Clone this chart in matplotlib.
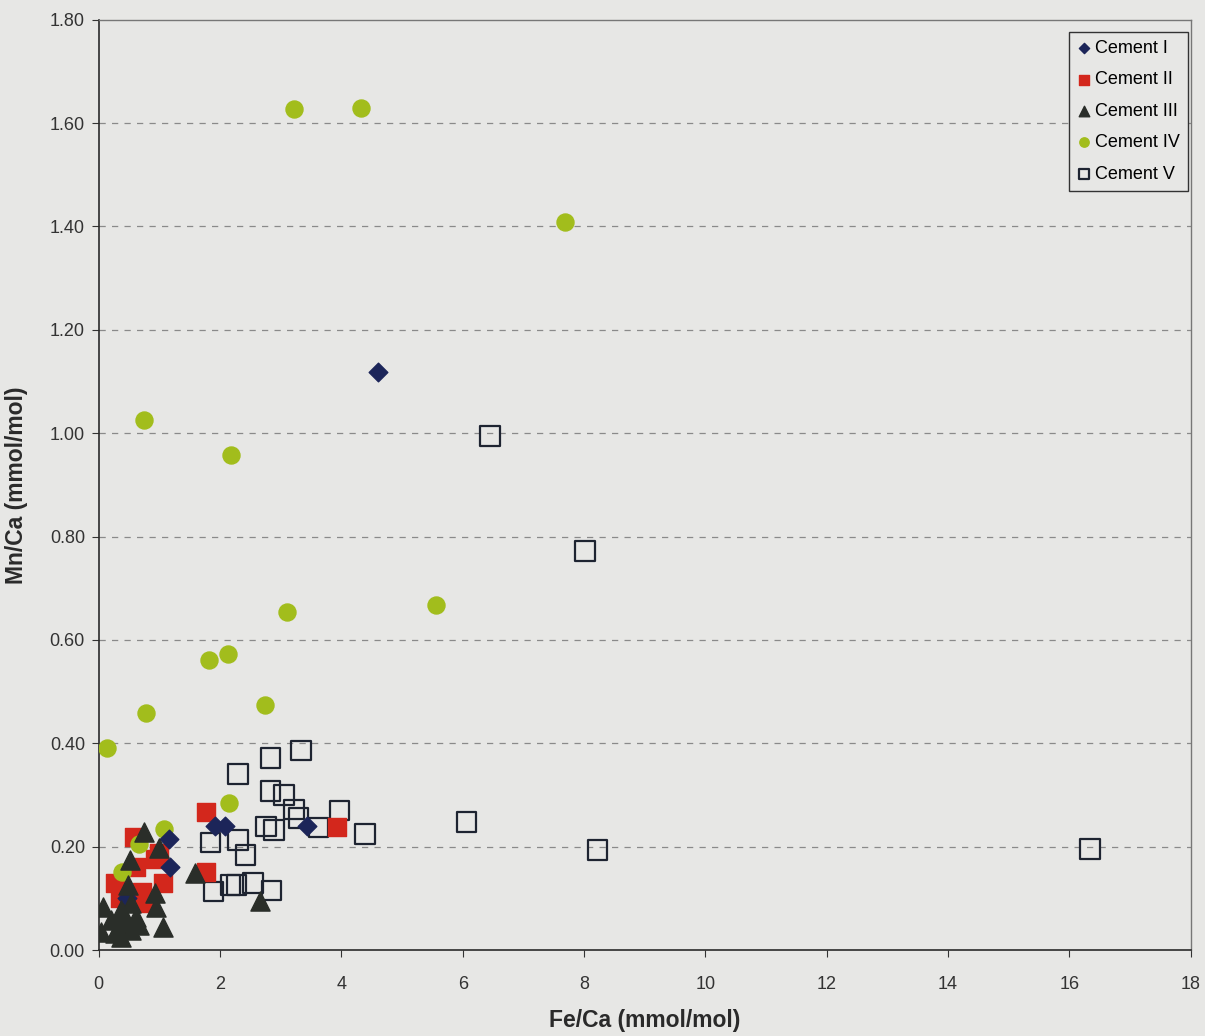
import matplotlib.pyplot as plt
from matplotlib.ticker import FormatStrFormatter

plt.rcParams['font.family'] = ['Liberation Sans', 'DejaVu Sans']

# Fe/Ca and Mn/Ca (mmol/mol) for each cement generation
c1_fe = [4.60, 1.91, 2.08, 3.43, 1.16, 1.17, 0.46]
c1_mn = [1.118, 0.239, 0.240, 0.239, 0.215, 0.161, 0.100]

c2_fe = [1.77, 1.77, 3.93, 0.58, 0.61, 0.27, 0.92, 1.06, 0.71, 0.35, 0.76, 1.00, 0.43]
c2_mn = [0.267, 0.151, 0.238, 0.219, 0.161, 0.130, 0.176, 0.130, 0.113, 0.100, 0.090, 0.187, 0.045]

c3_fe = [1.58, 2.66, 0.75, 1.00, 0.51, 0.48, 0.92, 0.94, 1.06, 0.07, 0.03, 0.26, 0.36,
         0.36, 0.53, 0.61, 0.42, 0.67, 0.31, 0.53, 0.40, 0.20]
c3_mn = [0.149, 0.094, 0.229, 0.197, 0.174, 0.126, 0.110, 0.084, 0.045, 0.084, 0.035, 0.033, 0.026,
         0.077, 0.090, 0.064, 0.055, 0.048, 0.042, 0.039, 0.071, 0.058]

c4_fe = [3.22, 4.32, 7.69, 0.74, 2.18, 3.10, 5.56, 1.82, 2.13, 0.78, 2.74, 0.13, 2.15, 1.07, 0.66, 0.38]
c4_mn = [1.628, 1.630, 1.409, 1.026, 0.958, 0.654, 0.668, 0.561, 0.573, 0.459, 0.474, 0.391,
         0.284, 0.234, 0.205, 0.151]

c5_fe = [6.45, 8.02, 6.06, 8.22, 16.34, 4.39, 3.33, 2.83, 2.30, 2.83, 3.05, 3.22, 3.29, 3.97,
         3.62, 2.76, 2.89, 1.84, 2.30, 2.42, 1.89, 2.17, 2.27, 2.54, 2.85]
c5_mn = [0.995, 0.772, 0.248, 0.194, 0.195, 0.225, 0.386, 0.371, 0.341, 0.308, 0.300, 0.272,
         0.255, 0.270, 0.237, 0.239, 0.232, 0.208, 0.213, 0.184, 0.113, 0.126, 0.126, 0.130, 0.115]

bg = '#e7e7e5'
fig = plt.figure(figsize=(12.05, 10.36), dpi=100, facecolor=bg)
ax = fig.add_axes([0.082, 0.083, 0.906, 0.898], facecolor=bg)

ax.scatter(c5_fe, c5_mn, marker='s', s=200, facecolors='none', edgecolors='#1e2431',
           linewidths=1.6, label='Cement V', zorder=3)
ax.scatter(c2_fe, c2_mn, marker='s', s=150, color='#d3271c', label='Cement II', zorder=4)
ax.scatter(c4_fe, c4_mn, marker='o', s=150, color='#a2bd1c', label='Cement IV', zorder=4)
ax.scatter(c1_fe, c1_mn, marker='D', s=90, color='#1c2559', label='Cement I', zorder=5)
ax.scatter(c3_fe, c3_mn, marker='^', s=190, color='#2a2e29', label='Cement III', zorder=5)

ax.set_xlim(0, 18)
ax.set_ylim(0, 1.80)
ax.set_xticks(range(0, 19, 2))
ax.set_yticks([i * 0.2 for i in range(10)])
ax.yaxis.set_major_formatter(FormatStrFormatter('%.2f'))
ax.tick_params(labelsize=13, colors='#333333', direction='out', length=5)
ax.tick_params(axis='y', pad=5)
ax.tick_params(axis='x', pad=14)

for y in [i * 0.2 for i in range(1, 9)]:
    ax.axhline(y, color='#8a8a8a', linestyle=(0, (5, 5)), linewidth=0.9, zorder=1)

for side in ['left', 'bottom']:
    ax.spines[side].set_color('#2a2a2a')
    ax.spines[side].set_linewidth(1.2)
for side in ['top', 'right']:
    ax.spines[side].set_color('#777777')
    ax.spines[side].set_linewidth(1.0)

ax.set_xlabel('Fe/Ca (mmol/mol)', fontsize=16.5, fontweight='bold', color='#2a2a2a')
ax.xaxis.set_label_coords(0.5, -0.063)
ax.set_ylabel('Mn/Ca (mmol/mol)', fontsize=16.5, fontweight='bold', color='#2a2a2a')
ax.yaxis.set_label_coords(-0.065, 0.5)

handles, labels = ax.get_legend_handles_labels()
order = ['Cement I', 'Cement II', 'Cement III', 'Cement IV', 'Cement V']
hmap = dict(zip(labels, handles))
leg = ax.legend([hmap[k] for k in order], order, loc='upper right', bbox_to_anchor=(0.9975, 0.987),
                fontsize=13, frameon=True, fancybox=False, framealpha=1, edgecolor='#333333',
                facecolor=bg, markerscale=0.55, handletextpad=0.2, labelspacing=0.8,
                borderpad=0.45, borderaxespad=0, handlelength=0.8)
leg.get_frame().set_linewidth(1.0)

fig.savefig('out.png', dpi=100, facecolor=bg)
